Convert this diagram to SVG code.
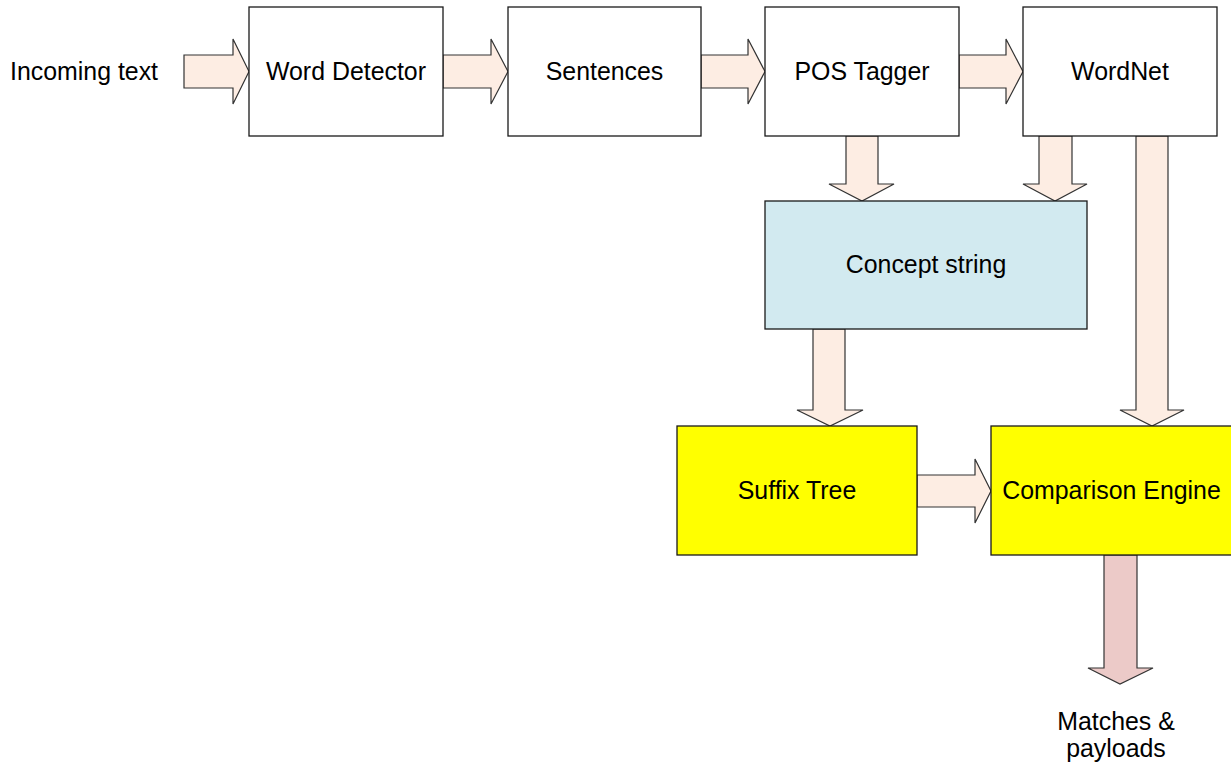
<svg xmlns="http://www.w3.org/2000/svg" width="1231" height="763" viewBox="0 0 1231 763">
  <style>
    .box { stroke: #1a1a1a; stroke-width: 1.3; }
    .plain { fill: #ffffff; }
    .concept { fill: #d2eaf0; }
    .yellow { fill: #ffff00; }
    .arrow { fill: #fdede3; stroke: #333333; stroke-width: 1.2; stroke-linejoin: miter; }
    .out { fill: #eccac8; }
    text { font-family: "Liberation Sans", Arial, sans-serif; font-size: 24.9px; fill: #000000; text-anchor: middle; }
  </style>
  <rect width="1231" height="763" fill="#ffffff"/>

  <!-- block arrows between stages -->
  <g id="connectors">
    <polygon class="arrow" points="184,55 233,55 233,39 249,71.5 233,104 233,88 184,88"/>
    <polygon class="arrow" points="443,55 491,55 491,39 508,71.5 491,104 491,88 443,88"/>
    <polygon class="arrow" points="701,55 748,55 748,39 765,71.5 748,104 748,88 701,88"/>
    <polygon class="arrow" points="959,55 1006,55 1006,39 1023,71.5 1006,104 1006,88 959,88"/>
    <polygon class="arrow" points="846,136 878,136 878,184 894,184 862,201 829,184 846,184"/>
    <polygon class="arrow" points="1039,136 1072,136 1072,184 1087,184 1055,201 1023,184 1039,184"/>
    <polygon class="arrow" points="1136,136 1168,136 1168,410 1184,410 1152,426 1120,410 1136,410"/>
    <polygon class="arrow" points="813,329 845,329 845,410 863,410 830,426 797,410 813,410"/>
    <polygon class="arrow" points="917,475 975,475 975,459 991,491 975,523 975,507 917,507"/>
    <polygon class="arrow out" points="1104,555 1137,555 1137,668 1153,668 1120,684 1088,668 1104,668"/>
  </g>

  <g id="incoming">
    <text x="84" y="80">Incoming text</text>
  </g>

  <g id="word-detector">
    <rect class="box plain" x="249" y="7" width="194" height="129"/>
    <text x="346" y="80">Word Detector</text>
  </g>

  <g id="sentences">
    <rect class="box plain" x="508" y="7" width="193" height="129"/>
    <text x="604.5" y="80">Sentences</text>
  </g>

  <g id="pos-tagger">
    <rect class="box plain" x="765" y="7" width="194" height="129"/>
    <text x="862" y="80">POS Tagger</text>
  </g>

  <g id="wordnet">
    <rect class="box plain" x="1023" y="7" width="194" height="129"/>
    <text x="1120" y="80">WordNet</text>
  </g>

  <g id="concept-string">
    <rect class="box concept" x="765" y="201" width="322" height="128"/>
    <text x="926" y="273">Concept string</text>
  </g>

  <g id="suffix-tree">
    <rect class="box yellow" x="677" y="426" width="240" height="129"/>
    <text x="797" y="499">Suffix Tree</text>
  </g>

  <g id="comparison-engine">
    <rect class="box yellow" x="991" y="426" width="245" height="129"/>
    <text x="1111.5" y="499">Comparison Engine</text>
  </g>

  <g id="matches">
    <text x="1116" y="730">Matches &amp;</text>
    <text x="1116" y="757">payloads</text>
  </g>
</svg>
